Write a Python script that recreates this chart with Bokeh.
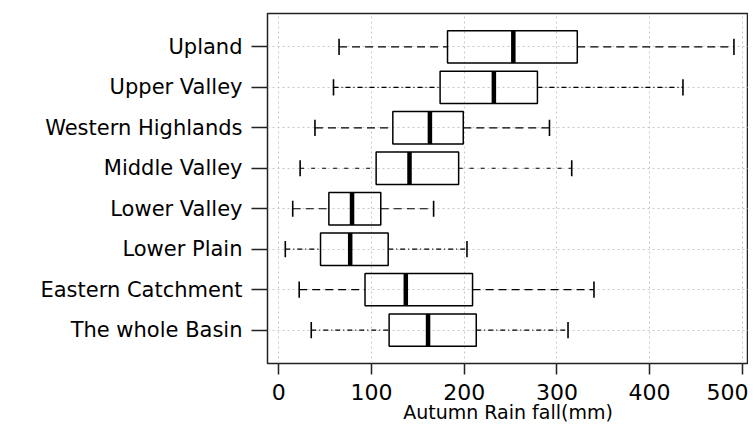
from bokeh.plotting import figure
from bokeh.models import FactorRange, Range1d, ColumnDataSource, FixedTicker
from bokeh.transform import dodge
from bokeh.embed import file_html
from bokeh.resources import INLINE

# ---- data ----
regions = ["Upland", "Upper Valley", "Western Highlands", "Middle Valley",
           "Lower Valley", "Lower Plain", "Eastern Catchment", "The whole Basin"]
whisker_low = [65, 59, 39, 23, 15, 7, 22, 35]
q1 = [182, 174, 123, 105, 54, 45, 93, 119]
median = [253, 232, 163, 141, 79, 77, 137, 161]
q3 = [322, 279, 199, 194, 110, 118, 209, 213]
whisker_high = [491, 436, 292, 316, 167, 203, 340, 312]
x_ticks = [0, 100, 200, 300, 400, 500]
x_label = "Autumn Rain fall(mm)"

# whisker line styles (per box)
whisker_dash = ["8 5", "5 3 1 3", "8 5", "4 7", "8 5", "5 3 1 3", "8 5", "5 3 1 3"]

src = ColumnDataSource(dict(region=regions, wlo=whisker_low, q1=q1, med=median,
                            q3=q3, whi=whisker_high))

FONT = "DejaVu Sans"

p = figure(width=748, height=429,
           y_range=FactorRange(factors=regions[::-1], range_padding=0.324,
                               range_padding_units="absolute"),
           x_range=Range1d(-12.2, 506.7),
           output_backend="svg", toolbar_location=None,
           min_border_left=267, min_border_right=0, min_border_top=13,
           min_border_bottom=66)

p.background_fill_color = "white"
p.border_fill_color = "white"
p.outline_line_color = "#222222"
p.outline_line_width = 1.5

# grid
p.xgrid.ticker = FixedTicker(ticks=x_ticks)
for g in (p.xgrid, p.ygrid):
    g.grid_line_color = "#c8c8c8"
    g.grid_line_dash = "2 3"
    g.grid_line_width = 1

# axes
p.xaxis.ticker = FixedTicker(ticks=x_ticks)
p.xaxis.axis_label = x_label
p.xaxis.axis_label_text_font = FONT
p.xaxis.axis_label_text_font_size = "19px"
p.xaxis.axis_label_text_font_style = "normal"
p.xaxis.axis_label_text_color = "black"
p.xaxis.axis_label_standoff = -2
p.xaxis.major_label_text_font = FONT
p.xaxis.major_label_text_font_size = "22px"
p.xaxis.major_label_text_color = "black"
p.xaxis.major_label_standoff = 9
p.xaxis.major_tick_out = 11
p.xaxis.major_tick_in = 0
p.xaxis.minor_tick_line_color = None

p.yaxis.major_label_text_font = FONT
p.yaxis.major_label_text_font_size = "21px"
p.yaxis.major_label_text_color = "black"
p.yaxis.major_label_standoff = 9
p.yaxis.major_tick_out = 16
p.yaxis.major_tick_in = 0

for ax in (p.xaxis, p.yaxis):
    ax.axis_line_color = None
    ax.major_tick_line_color = "#222222"
    ax.major_tick_line_width = 1.5

# whiskers (each box has its own line style)
for i, r in enumerate(regions):
    p.segment(x0=[whisker_low[i]], y0=[r], x1=[q1[i]], y1=[r],
              line_color="black", line_width=1.2, line_dash=whisker_dash[i])
    p.segment(x0=[q3[i]], y0=[r], x1=[whisker_high[i]], y1=[r],
              line_color="black", line_width=1.2, line_dash=whisker_dash[i])

# whisker caps
for col in ("wlo", "whi"):
    p.segment(x0=col, x1=col,
              y0=dodge("region", -0.2, range=p.y_range),
              y1=dodge("region", 0.2, range=p.y_range),
              source=src, line_color="black", line_width=1.6)

# boxes
p.hbar(y="region", left="q1", right="q3", height=0.8, source=src,
       fill_color=None, line_color="black", line_width=1.5)

# medians
p.segment(x0="med", x1="med",
          y0=dodge("region", -0.4, range=p.y_range),
          y1=dodge("region", 0.4, range=p.y_range),
          source=src, line_color="black", line_width=4.5, line_cap="butt")

open("out.html", "w").write(file_html(p, INLINE))
